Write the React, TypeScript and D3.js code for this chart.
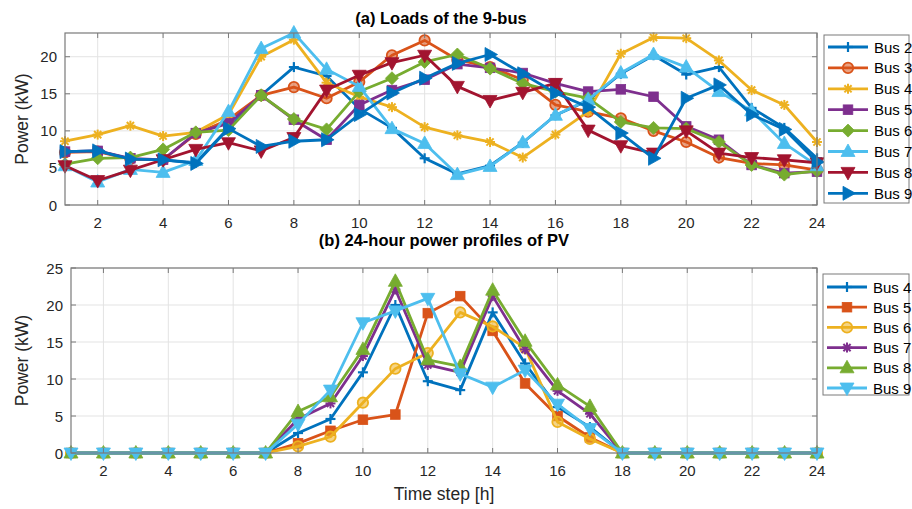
import React from 'react';
import * as d3 from 'd3';

// ---------- data ----------
const hours = [1, 2, 3, 4, 5, 6, 7, 8, 9, 10, 11, 12, 13, 14, 15, 16, 17, 18, 19, 20, 21, 22, 23, 24];
const xTickValues = [2, 4, 6, 8, 10, 12, 14, 16, 18, 20, 22, 24];
const loadYTicks = [0, 5, 10, 15, 20];
const pvYTicks = [0, 5, 10, 15, 20, 25];

const loadBus2 = [7.2, 7.3, 6.2, 6.1, 5.7, 10.4, 14.8, 18.6, 17.4, 13.0, 10.4, 6.3, 4.2, 5.3, 8.4, 12.1, 14.1, 17.7, 20.2, 17.6, 18.6, 13.1, 10.4, 6.3];
const loadBus3 = [7.1, 7.2, 6.2, 6.1, 9.6, 11.5, 14.8, 15.9, 14.4, 16.6, 20.2, 22.2, 19.6, 18.6, 16.9, 13.5, 12.6, 11.7, 10.0, 8.5, 6.4, 5.6, 5.4, 4.7];
const loadBus4 = [8.6, 9.5, 10.7, 9.3, 9.8, 12.2, 20.0, 22.3, 16.5, 14.6, 13.2, 10.5, 9.4, 8.5, 6.4, 9.5, 12.6, 20.4, 22.6, 22.5, 19.5, 15.5, 13.5, 8.5];
const loadBus5 = [7.2, 7.3, 6.3, 6.1, 9.7, 11.0, 14.8, 11.5, 8.8, 13.5, 15.5, 16.9, 19.0, 18.5, 17.8, 16.4, 15.3, 15.6, 14.6, 10.6, 8.8, 5.4, 4.3, 4.5];
const loadBus6 = [5.5, 6.3, 6.4, 7.5, 9.8, 10.1, 14.8, 11.6, 10.2, 15.3, 17.1, 19.3, 20.3, 18.4, 16.4, 15.3, 14.4, 11.2, 10.4, 10.3, 8.5, 5.4, 4.1, 4.6];
const loadBus7 = [5.3, 3.1, 4.8, 4.4, 6.0, 12.6, 21.1, 23.2, 18.3, 16.0, 10.3, 8.3, 4.1, 5.2, 8.4, 12.1, 14.2, 17.8, 20.3, 18.6, 15.3, 12.7, 8.3, 5.3];
const loadBus8 = [5.3, 3.3, 4.7, 6.1, 7.5, 8.4, 7.3, 9.1, 15.5, 17.5, 19.2, 20.2, 16.0, 14.1, 15.2, 16.4, 10.1, 8.0, 7.0, 10.0, 7.0, 6.4, 6.1, 5.7];
const loadBus9 = [7.2, 7.3, 6.2, 6.1, 5.6, 10.3, 7.9, 8.6, 8.8, 12.2, 15.1, 17.1, 19.1, 20.3, 17.7, 15.1, 13.2, 9.7, 6.3, 14.4, 16.2, 12.2, 10.2, 5.8];

const pvBus4 = [0, 0, 0, 0, 0, 0, 0, 2.7, 4.6, 10.9, 20.0, 9.7, 8.5, 19.0, 12.1, 6.2, 3.5, 0, 0, 0, 0, 0, 0, 0];
const pvBus5 = [0, 0, 0, 0, 0, 0, 0, 1.3, 3.0, 4.5, 5.2, 18.9, 21.2, 16.5, 9.4, 5.0, 2.1, 0, 0, 0, 0, 0, 0, 0];
const pvBus6 = [0, 0, 0, 0, 0, 0, 0, 0.9, 2.2, 6.8, 11.4, 13.5, 19.0, 17.1, 14.2, 4.2, 1.9, 0, 0, 0, 0, 0, 0, 0];
const pvBus7 = [0, 0, 0, 0, 0, 0, 0, 4.6, 6.7, 13.1, 22.1, 11.9, 10.9, 21.2, 14.0, 8.4, 5.3, 0, 0, 0, 0, 0, 0, 0];
const pvBus8 = [0, 0, 0, 0, 0, 0, 0, 5.6, 7.6, 14.0, 23.2, 12.6, 11.7, 22.0, 15.1, 9.2, 6.3, 0, 0, 0, 0, 0, 0, 0];
const pvBus9 = [0, 0, 0, 0, 0, 0, 0, 3.9, 8.5, 17.6, 19.2, 20.9, 10.7, 8.9, 11.2, 6.6, 3.3, 0, 0, 0, 0, 0, 0, 0];

const loadNames = ['Bus 2', 'Bus 3', 'Bus 4', 'Bus 5', 'Bus 6', 'Bus 7', 'Bus 8', 'Bus 9'];
const pvNames = ['Bus 4', 'Bus 5', 'Bus 6', 'Bus 7', 'Bus 8', 'Bus 9'];

// ---------- styling ----------
const C = {
  blue: '#0072BD',
  orange: '#D95319',
  yellow: '#EDB120',
  purple: '#7E2F8E',
  green: '#77AC30',
  cyan: '#4DBEEE',
  red: '#A2142F',
};

type MarkerType = 'plus' | 'circle' | 'star' | 'square' | 'diamond' | 'up' | 'down' | 'right';
type Series = { name: string; values: number[]; color: string; marker: MarkerType };

const loadSeries: Series[] = [
  { name: loadNames[0], values: loadBus2, color: C.blue, marker: 'plus' },
  { name: loadNames[1], values: loadBus3, color: C.orange, marker: 'circle' },
  { name: loadNames[2], values: loadBus4, color: C.yellow, marker: 'star' },
  { name: loadNames[3], values: loadBus5, color: C.purple, marker: 'square' },
  { name: loadNames[4], values: loadBus6, color: C.green, marker: 'diamond' },
  { name: loadNames[5], values: loadBus7, color: C.cyan, marker: 'up' },
  { name: loadNames[6], values: loadBus8, color: C.red, marker: 'down' },
  { name: loadNames[7], values: loadBus9, color: C.blue, marker: 'right' },
];

const pvSeries: Series[] = [
  { name: pvNames[0], values: pvBus4, color: C.blue, marker: 'plus' },
  { name: pvNames[1], values: pvBus5, color: C.orange, marker: 'square' },
  { name: pvNames[2], values: pvBus6, color: C.yellow, marker: 'circle' },
  { name: pvNames[3], values: pvBus7, color: C.purple, marker: 'star' },
  { name: pvNames[4], values: pvBus8, color: C.green, marker: 'up' },
  { name: pvNames[5], values: pvBus9, color: C.cyan, marker: 'down' },
];

const FONT = '"Liberation Sans", Arial, Helvetica, sans-serif';
const AXIS_COLOR = '#7a7a7a';
const GRID_COLOR = '#e3e3e3';
const TEXT_COLOR = '#262626';

function Marker({ type, x, y, color }: { type: MarkerType; x: number; y: number; color: string }) {
  const s = 6.5;
  switch (type) {
    case 'plus':
      return (
        <g stroke={color} strokeWidth={2.2}>
          <line x1={x - 5} y1={y} x2={x + 5} y2={y} />
          <line x1={x} y1={y - 5} x2={x} y2={y + 5} />
        </g>
      );
    case 'star':
      return (
        <g stroke={color} strokeWidth={2}>
          <line x1={x - 5} y1={y} x2={x + 5} y2={y} />
          <line x1={x} y1={y - 5} x2={x} y2={y + 5} />
          <line x1={x - 3.6} y1={y - 3.6} x2={x + 3.6} y2={y + 3.6} />
          <line x1={x - 3.6} y1={y + 3.6} x2={x + 3.6} y2={y - 3.6} />
        </g>
      );
    case 'circle':
      return <circle cx={x} cy={y} r={5.2} fill={color} fillOpacity={0.55} stroke={color} strokeWidth={1.8} />;
    case 'square':
      return <rect x={x - 4.8} y={y - 4.8} width={9.6} height={9.6} fill={color} stroke={color} strokeWidth={0.8} />;
    case 'diamond':
      return <path d={`M${x},${y - s}L${x + s},${y}L${x},${y + s}L${x - s},${y}Z`} fill={color} stroke={color} strokeWidth={0.8} />;
    case 'up':
      return <path d={`M${x},${y - 7.5}L${x + 7},${y + 5}L${x - 7},${y + 5}Z`} fill={color} stroke={color} strokeWidth={0.8} />;
    case 'down':
      return <path d={`M${x},${y + 7.5}L${x + 7},${y - 5}L${x - 7},${y - 5}Z`} fill={color} stroke={color} strokeWidth={0.8} />;
    case 'right':
      return <path d={`M${x + 7.5},${y}L${x - 5},${y - 7}L${x - 5},${y + 7}Z`} fill={color} stroke={color} strokeWidth={0.8} />;
  }
  return null;
}

type PanelProps = {
  title: string;
  series: Series[];
  left: number;
  right: number;
  top: number;
  bottom: number;
  yMax: number;
  yTicks: number[];
  titleY: number;
  ylabelX: number;
  legend: { x: number; y: number; w: number; h: number; firstRow: number; rowGap: number };
};

function Panel(p: PanelProps) {
  const x = d3.scaleLinear().domain([1, 24]).range([p.left, p.right]);
  const y = d3.scaleLinear().domain([0, p.yMax]).range([p.bottom, p.top]);
  const line = d3
    .line<number>()
    .x((_, i) => x(hours[i]))
    .y((v) => y(v));
  const tickLen = 5;
  const cx = (p.left + p.right) / 2;
  return (
    <g>
      {xTickValues.map((t) => (
        <line key={'gx' + t} x1={x(t)} x2={x(t)} y1={p.top} y2={p.bottom} stroke={GRID_COLOR} strokeWidth={1} />
      ))}
      {p.yTicks.map((t) => (
        <line key={'gy' + t} x1={p.left} x2={p.right} y1={y(t)} y2={y(t)} stroke={GRID_COLOR} strokeWidth={1} />
      ))}
      <defs>
        <clipPath id={'clip' + p.top}>
          <rect x={p.left - 10} y={p.top - 12} width={p.right - p.left + 20} height={p.bottom - p.top + 24} />
        </clipPath>
      </defs>
      <g clipPath={`url(#clip${p.top})`}>
        {p.series.map((s) => (
          <g key={s.name + s.marker}>
            <path d={line(s.values) || ''} fill="none" stroke={s.color} strokeWidth={2.8} strokeLinejoin="round" />
            {s.values.map((v, i) => (
              <Marker key={i} type={s.marker} x={x(hours[i])} y={y(v)} color={s.color} />
            ))}
          </g>
        ))}
      </g>
      <rect x={p.left} y={p.top} width={p.right - p.left} height={p.bottom - p.top} fill="none" stroke={AXIS_COLOR} strokeWidth={1.2} />
      {xTickValues.map((t) => (
        <g key={'tx' + t} stroke={AXIS_COLOR} strokeWidth={1}>
          <line x1={x(t)} x2={x(t)} y1={p.bottom} y2={p.bottom - tickLen} />
          <line x1={x(t)} x2={x(t)} y1={p.top} y2={p.top + tickLen} />
        </g>
      ))}
      {p.yTicks.map((t) => (
        <g key={'ty' + t} stroke={AXIS_COLOR} strokeWidth={1}>
          <line x1={p.left} x2={p.left + tickLen} y1={y(t)} y2={y(t)} />
          <line x1={p.right} x2={p.right - tickLen} y1={y(t)} y2={y(t)} />
        </g>
      ))}
      {xTickValues.map((t) => (
        <text key={'lx' + t} x={x(t)} y={p.bottom + 22.5} textAnchor="middle" fontSize={15} fill={TEXT_COLOR} fontFamily={FONT}>
          {t}
        </text>
      ))}
      {p.yTicks.map((t) => (
        <text key={'ly' + t} x={p.left - 8} y={y(t) + 5.5} textAnchor="end" fontSize={15} fill={TEXT_COLOR} fontFamily={FONT}>
          {t}
        </text>
      ))}
      <text x={cx} y={p.titleY} textAnchor="middle" fontSize={16.5} fontWeight="bold" fill="#000" fontFamily={FONT}>
        {p.title}
      </text>
      <text
        transform={`translate(${p.ylabelX},${(p.top + p.bottom) / 2}) rotate(-90)`}
        textAnchor="middle"
        fontSize={17.5}
        fill={TEXT_COLOR}
        fontFamily={FONT}
      >
        Power (kW)
      </text>
      <rect x={p.legend.x} y={p.legend.y} width={p.legend.w} height={p.legend.h} fill="#fff" stroke={AXIS_COLOR} strokeWidth={1} />
      {p.series.map((s, i) => {
        const ly = p.legend.firstRow + i * p.legend.rowGap;
        const lx = p.legend.x + 4;
        return (
          <g key={'leg' + i}>
            <line x1={lx} x2={lx + 40} y1={ly} y2={ly} stroke={s.color} strokeWidth={2.8} />
            <Marker type={s.marker} x={lx + 20} y={ly} color={s.color} />
            <text x={lx + 46} y={ly + 5.5} fontSize={15} fill="#000" fontFamily={FONT}>
              {s.name}
            </text>
          </g>
        );
      })}
    </g>
  );
}

export default function App() {
  return (
    <svg width={912} height={509} style={{ position: 'absolute', left: 0, top: 0, background: '#fff' }}>
      <rect x={0} y={0} width={912} height={509} fill="#fff" />
      <Panel
        title="(a) Loads of the 9-bus"
        series={loadSeries}
        left={65}
        right={817}
        top={33}
        bottom={205}
        yMax={23.2}
        yTicks={loadYTicks}
        titleY={24}
        ylabelX={28}
        legend={{ x: 824, y: 35, w: 85, h: 168, firstRow: 47, rowGap: 20.9 }}
      />
      <Panel
        title="(b) 24-hour power profiles of PV"
        series={pvSeries}
        left={71}
        right={817}
        top={268}
        bottom={453}
        yMax={25}
        yTicks={pvYTicks}
        titleY={246}
        ylabelX={28}
        legend={{ x: 823, y: 274, w: 86, h: 121, firstRow: 287, rowGap: 20.2 }}
      />
      <text x={444} y={500} textAnchor="middle" fontSize={17.5} fill={TEXT_COLOR} fontFamily={FONT}>
        Time step [h]
      </text>
    </svg>
  );
}
